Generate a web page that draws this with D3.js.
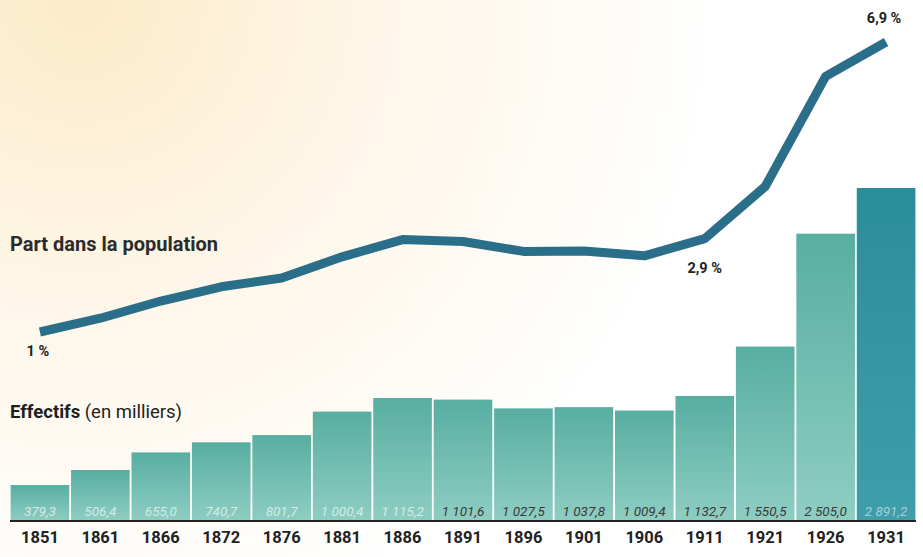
<!DOCTYPE html>
<html>
<head>
<meta charset="utf-8">
<title>Étrangers en France 1851-1931</title>
<script src="https://d3js.org/d3.v7.min.js"></script>
<style>
  body { margin: 0; background: #fff; }
  text { font-family: Roboto, "Liberation Sans", sans-serif; }
</style>
</head>
<body>
<div id="chart"></div>
<script>
// recensements
var years = ['1851', '1861', '1866', '1872', '1876', '1881', '1886', '1891', '1896', '1901', '1906', '1911', '1921', '1926', '1931'];
// effectifs des étrangers, en milliers
var effectifs = [379.3, 506.4, 655.0, 740.7, 801.7, 1000.4, 1115.2, 1101.6, 1027.5, 1037.8, 1009.4, 1132.7, 1550.5, 2505.0, 2891.2];
// part dans la population, en %
var part = [1.0, 1.28, 1.63, 1.92, 2.1, 2.53, 2.88, 2.84, 2.64, 2.65, 2.55, 2.9, 3.96, 6.2, 6.9];
var partLabels = [[0, '1 %'], [11, '2,9 %'], [14, '6,9 %']];

var width = 923, height = 557;
var base = 521;

var svg = d3.select('#chart').append('svg')
    .attr('width', width)
    .attr('height', height);

var defs = svg.append('defs');
var bg = defs.append('radialGradient').attr('id', 'bg')
    .attr('gradientUnits', 'userSpaceOnUse')
    .attr('cx', 80).attr('cy', 0).attr('r', 640);
bg.append('stop').attr('offset', 0).attr('stop-color', '#fcebc9');
bg.append('stop').attr('offset', 0.5).attr('stop-color', '#fef7ea');
bg.append('stop').attr('offset', 1).attr('stop-color', '#ffffff');

var barGrad = defs.append('linearGradient').attr('id', 'bar')
    .attr('x1', 0).attr('y1', 0).attr('x2', 0).attr('y2', 1);
barGrad.append('stop').attr('offset', 0).attr('stop-color', '#57aea1');
barGrad.append('stop').attr('offset', 1).attr('stop-color', '#8fcdc2');

var lastGrad = defs.append('linearGradient').attr('id', 'barLast')
    .attr('x1', 0).attr('y1', 0).attr('x2', 0).attr('y2', 1);
lastGrad.append('stop').attr('offset', 0).attr('stop-color', '#2c8d9a');
lastGrad.append('stop').attr('offset', 1).attr('stop-color', '#3f9eaa');

svg.append('rect')
    .attr('width', width).attr('height', height)
    .attr('fill', 'url(#bg)');

var x = d3.scaleBand()
    .domain(years)
    .range([10, 916])
    .paddingInner(0.03)
    .paddingOuter(0.01);

var yBar = d3.scaleLinear()
    .domain([75, 2891.2])
    .range([base, 188]);

var yPart = d3.scaleLinear()
    .domain([1, 6.9])
    .range([332, 42]);

var fr = d3.formatLocale({ decimal: ',', thousands: '\u00a0', grouping: [3], currency: ['', ' €'] });
var fmt = fr.format(',.1f');

// barres
svg.selectAll('rect.bar')
    .data(effectifs)
    .enter()
    .append('rect')
        .attr('class', 'bar')
        .attr('x', (d, i) => x(years[i]))
        .attr('y', d => yBar(d))
        .attr('width', x.bandwidth())
        .attr('height', d => base - yBar(d))
        .attr('fill', (d, i) => i === effectifs.length - 1 ? 'url(#barLast)' : 'url(#bar)');

// valeurs dans les barres
svg.selectAll('text.val')
    .data(effectifs)
    .enter()
    .append('text')
        .attr('class', 'val')
        .text(d => fmt(d))
        .attr('x', (d, i) => x(years[i]) + x.bandwidth() / 2)
        .attr('y', 516)
        .attr('text-anchor', 'middle')
        .attr('font-size', 13.5)
        .attr('font-style', 'italic')
        .attr('fill', (d, i) => i === effectifs.length - 1 ? '#9fd2d8' : (i < 7 ? '#d2ece6' : '#3a3a3a'));

// ligne de base
svg.append('line')
    .attr('x1', 10).attr('x2', 916)
    .attr('y1', base).attr('y2', base)
    .attr('stroke', '#222')
    .attr('stroke-width', 2);

// axe des années
var xAxis = svg.append('g')
    .attr('transform', `translate(0,${base})`)
    .call(d3.axisBottom(x).tickSize(0).tickPadding(10));
xAxis.select('.domain').remove();
xAxis.selectAll('text')
    .attr('font-family', 'Roboto, sans-serif')
    .attr('font-size', 16.5)
    .attr('font-weight', 'bold')
    .attr('fill', '#222');

// courbe de la part dans la population
var line = d3.line()
    .x((d, i) => x(years[i]) + x.bandwidth() / 2)
    .y(d => yPart(d))
    .curve(d3.curveLinear);

svg.append('path')
    .datum(part)
    .attr('d', line)
    .attr('fill', 'none')
    .attr('stroke', '#2a6e89')
    .attr('stroke-width', 9)
    .attr('stroke-linecap', 'butt')
    .attr('stroke-linejoin', 'round');

var offsets = { 0: [-2, 24], 11: [0, 34], 14: [-2, -19] };
svg.selectAll('text.pct')
    .data(partLabels)
    .enter()
    .append('text')
        .attr('class', 'pct')
        .text(d => d[1])
        .attr('x', d => x(years[d[0]]) + x.bandwidth() / 2 + offsets[d[0]][0])
        .attr('y', d => yPart(part[d[0]]) + offsets[d[0]][1])
        .attr('text-anchor', 'middle')
        .attr('font-size', 14.5)
        .attr('font-weight', 'bold')
        .attr('fill', '#222');

// titres
svg.append('text')
    .attr('x', 10).attr('y', 251)
    .attr('font-size', 20)
    .attr('font-weight', 'bold')
    .attr('fill', '#2b2b2b')
    .text('Part dans la population');

var t2 = svg.append('text')
    .attr('x', 10).attr('y', 418)
    .attr('font-size', 18.5)
    .attr('fill', '#1e1e1e');
t2.append('tspan').attr('font-weight', 'bold').text('Effectifs');
t2.append('tspan').text(' (en milliers)');
</script>
</body>
</html>
